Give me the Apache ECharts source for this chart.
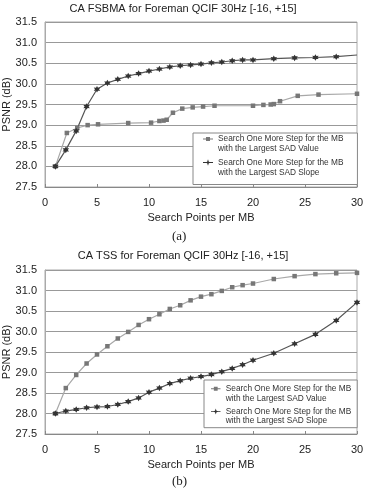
<!DOCTYPE html>
<html>
<head>
<meta charset="utf-8">
<script src="https://cdn.jsdelivr.net/npm/echarts@6/dist/echarts.min.js"></script>
<style>
  html, body { margin: 0; padding: 0; background: #fff; }
  #chart { width: 366px; height: 491px; }
</style>
</head>
<body>
<div id="chart"></div>
<script>
// (a) CA FSBMA
var fsbmaValueX = [1, 2.1, 3.1, 4.1, 5.1, 8, 10.2, 11, 11.4, 11.7, 12.3, 13.2, 14.2, 15.2, 16.3, 20, 21, 21.7, 22, 22.6, 24.3, 26.3, 30];
var fsbmaValueY = [28.0, 28.81, 28.93, 29.0, 29.02, 29.05, 29.06, 29.10, 29.11, 29.13, 29.30, 29.40, 29.43, 29.45, 29.47, 29.47, 29.49, 29.50, 29.51, 29.58, 29.71, 29.74, 29.76];
var fsbmaSlopeX = [1, 2, 3, 4, 5, 6, 7, 8, 9, 10, 11, 12, 13, 14, 15, 16, 17, 18, 19, 20, 22, 24, 26, 28, 30];
var fsbmaSlopeY = [28.0, 28.40, 28.86, 29.45, 29.87, 30.02, 30.11, 30.19, 30.25, 30.31, 30.36, 30.41, 30.44, 30.46, 30.48, 30.51, 30.53, 30.56, 30.58, 30.58, 30.61, 30.63, 30.64, 30.66, 30.70];

// (b) CA TSS
var tssX = [1, 2, 3, 4, 5, 6, 7, 8, 9, 10, 11, 12, 13, 14, 15, 16, 17, 18, 19, 20, 22, 24, 26, 28, 30];
var tssValueY = [28.0, 28.62, 28.94, 29.22, 29.44, 29.64, 29.83, 29.99, 30.16, 30.30, 30.42, 30.55, 30.64, 30.76, 30.85, 30.91, 30.99, 31.08, 31.13, 31.17, 31.28, 31.35, 31.40, 31.42, 31.43];
var tssSlopeY = [28.0, 28.06, 28.10, 28.14, 28.16, 28.17, 28.22, 28.29, 28.38, 28.52, 28.62, 28.73, 28.80, 28.86, 28.90, 28.95, 29.02, 29.10, 29.19, 29.30, 29.47, 29.70, 29.93, 30.27, 30.71];

var nameValue = 'Search One More Step for the MB\nwith the Largest SAD Value';
var nameSlope = 'Search One More Step for the MB\nwith the Largest SAD Slope';

var starPath = 'path://M0,-6L1.6,-2.8L5.2,-3L3.2,0L5.2,3L1.6,2.8L0,6L-1.6,2.8L-5.2,3L-3.2,0L-5.2,-3L-1.6,-2.8Z';
// legend icons: short line with marker sitting on the first text line (box 10 x 20),
// zero-length moves at the corners only fix the icon's bounds
var iconValue = 'path://M0,0L0,0 M0,4.6H3V3H7V4.6H10V5.4H7V7H3V5.4H0Z M10,20L10,20';
var iconSlope = 'path://M0,0L0,0 M0,4.6H10V5.4H0Z M5,1.8L5.8,4.2L8.2,5L5.8,5.8L5,8.2L4.2,5.8L1.8,5L4.2,4.2Z M10,20L10,20';
var fontSans = 'Liberation Sans, Arial, sans-serif';

function zip(xs, ys) {
    return xs.map(function (x, i) { return [x, ys[i]]; });
}

function xAxisFor(idx) {
    return {
        gridIndex: idx, type: 'value', min: 0, max: 30, interval: 5,
        name: 'Search Points per MB', nameLocation: 'middle', nameGap: 25, nameMoveOverlap: false,
        nameTextStyle: { fontSize: 11, color: '#222', fontFamily: fontSans },
        axisLine: { show: true, onZero: false, lineStyle: { color: '#888' } },
        axisTick: { show: true, inside: true, length: 3, lineStyle: { color: '#888' } },
        axisLabel: { fontSize: 11, color: '#222', margin: 10, fontFamily: fontSans },
        splitLine: { show: false }
    };
}

function yAxisFor(idx) {
    return {
        gridIndex: idx, type: 'value', min: 27.5, max: 31.5, interval: 0.5,
        name: 'PSNR (dB)', nameLocation: 'middle', nameGap: 33, nameRotate: 90, nameMoveOverlap: false,
        nameTextStyle: { fontSize: 11, color: '#222', fontFamily: fontSans },
        axisLine: { show: true, lineStyle: { color: '#aaa' } },
        axisTick: { show: false },
        axisLabel: { fontSize: 11, color: '#222', margin: 8, fontFamily: fontSans,
            formatter: function (v) { return v.toFixed(1); } },
        splitLine: { show: true, lineStyle: { color: '#999', width: 1 } }
    };
}

function legendFor(left, top, pad, gap, lh) {
    return {
        left: left, top: top, orient: 'vertical',
        data: [{ name: nameValue, icon: iconValue }, { name: nameSlope, icon: iconSlope }],
        itemWidth: 10, itemHeight: lh * 2, itemGap: gap,
        padding: pad,
        borderColor: '#888', borderWidth: 1, borderRadius: 0,
        backgroundColor: '#fff',
        selectedMode: false,
        itemStyle: { borderWidth: 0 },
        textStyle: { fontSize: 8.3, lineHeight: lh, color: '#333', fontFamily: fontSans }
    };
}

function valueSeries(idx, data) {
    return {
        name: nameValue, type: 'line', xAxisIndex: idx, yAxisIndex: idx,
        data: data, symbol: 'rect', symbolSize: 4.5,
        lineStyle: { color: '#a8a8a8', width: 1.2 },
        itemStyle: { color: '#777' },
        animation: false
    };
}

function slopeSeries(idx, data) {
    return {
        name: nameSlope, type: 'line', xAxisIndex: idx, yAxisIndex: idx,
        data: data, symbol: starPath, symbolSize: 6.5,
        lineStyle: { color: '#555', width: 1.2 },
        itemStyle: { color: '#333' },
        animation: false
    };
}

var fsbmaSlopeData = zip(fsbmaSlopeX, fsbmaSlopeY);
// the last point of (a) slope curve has no marker
fsbmaSlopeData[fsbmaSlopeData.length - 1] = { value: fsbmaSlopeData[fsbmaSlopeData.length - 1], symbol: 'none' };

var titleStyle = { fontSize: 11, fontWeight: 'normal', color: '#222', fontFamily: fontSans };
var capStyle = { fontSize: 13, fontWeight: 'normal', color: '#222', fontFamily: 'Liberation Serif, serif' };

var chart = echarts.init(document.getElementById('chart'), null, { renderer: 'canvas' });
chart.setOption({
    animation: false,
    backgroundColor: '#fff',
    title: [
        { text: 'CA FSBMA for Foreman QCIF 30Hz [-16, +15]', left: 'center', top: 3, padding: 0, textStyle: titleStyle },
        { text: 'CA TSS for Foreman QCIF 30Hz [-16, +15]', left: 'center', top: 250, padding: 0, textStyle: titleStyle },
        { text: '(a)', left: 172, top: 230, padding: 0, textStyle: capStyle },
        { text: '(b)', left: 172, top: 475, padding: 0, textStyle: capStyle }
    ],
    grid: [
        { left: 45, top: 22, width: 312, height: 165, outerBoundsMode: 'none', containLabel: false,
          show: true, borderColor: '#aaa', borderWidth: 1, backgroundColor: 'transparent' },
        { left: 45, top: 270, width: 312, height: 164, outerBoundsMode: 'none', containLabel: false,
          show: true, borderColor: '#aaa', borderWidth: 1, backgroundColor: 'transparent' }
    ],
    xAxis: [xAxisFor(0), xAxisFor(1)],
    yAxis: [yAxisFor(0), yAxisFor(1)],
    legend: [
        legendFor(193, 133, [1, 14, 7, 10], 3.5, 10),
        legendFor(204, 380, [4, 6, 2, 7], 3.7, 9.5)
    ],
    series: [
        valueSeries(0, zip(fsbmaValueX, fsbmaValueY)),
        slopeSeries(0, fsbmaSlopeData),
        valueSeries(1, zip(tssX, tssValueY)),
        slopeSeries(1, zip(tssX, tssSlopeY))
    ]
});
</script>
</body>
</html>
